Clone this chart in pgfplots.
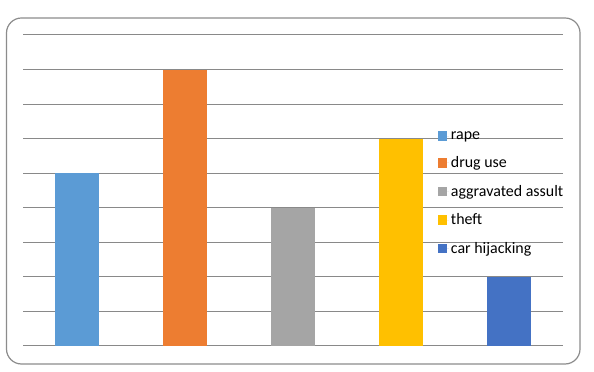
\documentclass[border=0pt]{standalone}
\usepackage{pgfplots}
\pgfplotsset{compat=1.18}
\usepackage{fontspec}
\setmainfont{Carlito}
\definecolor{c1}{HTML}{5B9BD5}
\definecolor{c2}{HTML}{ED7D31}
\definecolor{c3}{HTML}{A5A5A5}
\definecolor{c4}{HTML}{FFC000}
\definecolor{c5}{HTML}{4472C4}
\definecolor{gridgray}{HTML}{898989}
\definecolor{framegray}{HTML}{8C8C8C}
\begin{document}
\begin{tikzpicture}
\path[use as bounding box] (0,0) rectangle (594bp,372bp);
\fill[white] (0,0) rectangle (594bp,372bp);
\draw[color=framegray, line width=1.2bp, rounded corners=15bp] (6.5bp,8bp) rectangle (580bp,354bp);
\begin{axis}[
  at={(23bp,26bp)}, anchor=south west,
  scale only axis, width=540bp, height=311bp,
  xmin=-0.5, xmax=4.5, ymin=0, ymax=9,
  ytick={0,1,...,9}, yticklabels={}, xtick=\empty,
  major tick length=0pt,
  ymajorgrids, grid style={line width=1bp, color=gridgray},
  axis line style={draw=none},
  ybar, bar width=44bp, bar shift=0pt,
  legend image code/.code={\fill[#1] (0bp,-4.7bp) rectangle (9.5bp,4.7bp); \path (0bp,0bp) -- (11bp,0bp);},
  legend cell align=left,
  legend style={draw=none, fill=none, font=\fontsize{16}{18}\selectfont,
    at={(0.768,0.697)}, anchor=north west, inner sep=0pt,
    row sep=12bp, nodes={inner sep=2bp}},
]
\addplot[fill=c1, draw=none] coordinates {(0,5)};
\addlegendentry{rape}
\addplot[fill=c2, draw=none] coordinates {(1,8)};
\addlegendentry{drug use}
\addplot[fill=c3, draw=none] coordinates {(2,4)};
\addlegendentry{aggravated assult}
\addplot[fill=c4, draw=none] coordinates {(3,6)};
\addlegendentry{theft}
\addplot[fill=c5, draw=none] coordinates {(4,2)};
\addlegendentry{car hijacking}
\end{axis}
\end{tikzpicture}
\end{document}
